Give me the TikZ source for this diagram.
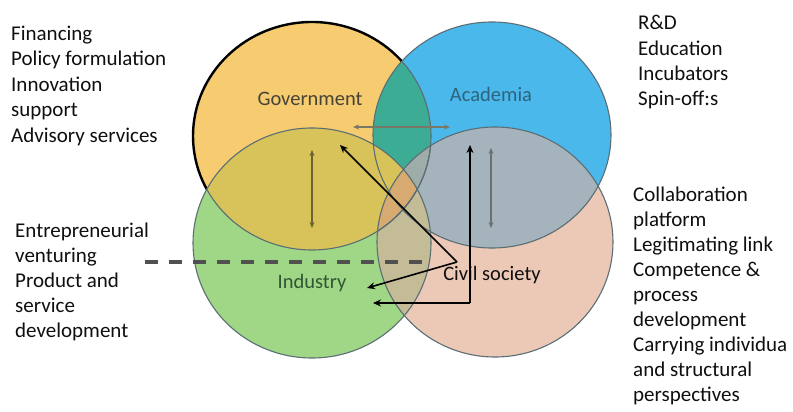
\documentclass[tikz,border=0pt]{standalone}
\usepackage{fontspec}
\setmainfont{Carlito}
\usetikzlibrary{arrows.meta}
\definecolor{govc}{RGB}{247,203,112}
\definecolor{acadc}{RGB}{75,184,236}
\definecolor{indc}{RGB}{160,215,135}
\definecolor{civc}{RGB}{236,201,182}
\definecolor{gac}{RGB}{60,172,148}
\definecolor{gic}{RGB}{216,194,90}
\definecolor{acc}{RGB}{165,180,188}
\definecolor{icc}{RGB}{195,188,150}
\definecolor{gcc}{RGB}{226,180,122}
\definecolor{gacc}{RGB}{158,172,170}
\definecolor{gicc}{RGB}{214,170,112}
\definecolor{edgec}{RGB}{90,110,115}
\definecolor{olivearr}{RGB}{105,100,45}
\definecolor{grayarr}{RGB}{110,112,112}
\definecolor{harr}{RGB}{120,120,100}
\definecolor{dashc}{RGB}{80,80,80}
\definecolor{txt}{RGB}{15,15,15}
\begin{document}
\begin{tikzpicture}[x=1pt,y=-1pt,
  govpath/.style={insert path={(312,136) ellipse [x radius=119pt, y radius=114pt]}},
  acadpath/.style={insert path={(492,135) ellipse [x radius=119pt, y radius=113pt]}},
  indpath/.style={insert path={(312,243) ellipse [x radius=119pt, y radius=115pt]}},
  civpath/.style={insert path={(495,242) ellipse [x radius=118pt, y radius=115pt]}},
  side/.style={font=\fontsize{21}{25}\selectfont, inner sep=0pt, text=txt, anchor=base west},
  lbl/.style={font=\fontsize{20.5}{24}\selectfont, inner sep=0pt, anchor=base},
  thinarr/.style={line width=1.1pt, {Stealth[length=6pt,width=5pt]}-{Stealth[length=6pt,width=5pt]}},
  blackarr/.style={line width=1.6pt, draw=black, -{Stealth[length=8pt,width=7pt]}},
  circedge/.style={draw=edgec, line width=1.1pt}
]
\useasboundingbox (0,0) rectangle (793,412);
% base fills
\fill[govc, govpath];
\draw[black, line width=2.4pt, govpath];
\fill[acadc, acadpath];
\fill[indc, indpath];
\fill[civc, civpath];
% pairwise overlaps
\begin{scope}\clip[govpath]; \fill[gac, acadpath]; \end{scope}
\begin{scope}\clip[govpath]; \fill[gic, indpath]; \end{scope}
\begin{scope}\clip[acadpath]; \fill[acc, civpath]; \end{scope}
\begin{scope}\clip[indpath]; \fill[icc, civpath]; \end{scope}
\begin{scope}\clip[govpath]; \fill[gcc, civpath]; \end{scope}
% triple overlaps
\begin{scope}\clip[govpath]; \clip[acadpath]; \fill[gacc, civpath]; \end{scope}
\begin{scope}\clip[govpath]; \clip[indpath]; \fill[gicc, civpath]; \end{scope}
% outlines
\draw[circedge, acadpath];
\draw[circedge, indpath];
\draw[circedge, civpath];
\begin{scope}\clip[acadpath]; \draw[circedge, govpath]; \end{scope}
\begin{scope}\clip[indpath]; \draw[circedge, govpath]; \end{scope}
\begin{scope}\clip[civpath]; \draw[circedge, govpath]; \end{scope}

% circle labels
\node[lbl, text={rgb,255:red,70;green,68;blue,55}] (govl) at (310,106) {Government};
\node[lbl, text={rgb,255:red,45;green,100;blue,125}] (acadl) at (491,102) {Academia};
\node[lbl, text={rgb,255:red,50;green,85;blue,50}] (indl) at (312,288) {Industry};
\node[lbl, text=txt] (civl) at (492,280) {Civil society};

% side texts
\foreach \t [count=\i from 0] in {Financing, Policy formulation, Innovation, support, Advisory services}
  \node[side] (gt\i) at (11,{40.5+25.5*\i}) {\t};
\foreach \t [count=\i from 0] in {Entrepreneurial, venturing, Product and, service, development}
  \node[side] (it\i) at (15,{237+25*\i}) {\t};
\foreach \t [count=\i from 0] in {R\&D, Education, Incubators, Spin-off:s}
  \node[side] (at\i) at (638,{30+25.3*\i}) {\t};
\foreach \t [count=\i from 0] in {Collaboration, platform, Legitimating link, Competence \&, process, development, Carrying individua, and structural, perspectives}
  \node[side] (ct\i) at (633,{201+25.1*\i}) {\t};

% connector points
\coordinate (hL) at (353,127);
\coordinate (hR) at (450,127);
\coordinate (gvT) at (312,150);
\coordinate (gvB) at (312,228);
\coordinate (avT) at (491,148);
\coordinate (avB) at (491,228);
\coordinate (dashL) at (145,262);
\coordinate (dashR) at (432,262);
\coordinate (vtx) at (457,262);
\coordinate (govTip) at (340,145);
\coordinate (indTip1) at (367,288);
\coordinate (corner) at (470,303);
\coordinate (acadTip) at (470,145);
\coordinate (indTip2) at (373,303);

% thin double arrows
\draw[thinarr, draw=harr] (hL) -- (hR);
\draw[thinarr, draw=olivearr] (gvT) -- (gvB);
\draw[thinarr, draw=grayarr] (avT) -- (avB);

% dashed line
\draw[dashc, line width=3.5pt, dash pattern=on 13pt off 11pt] (dashL) -- (dashR);

% black arrows
\draw[blackarr] (vtx) -- (govTip);
\draw[blackarr] (vtx) -- (indTip1);
\draw[blackarr] (corner) -- (acadTip);
\draw[blackarr] (corner) -- (indTip2);
\end{tikzpicture}
\end{document}
